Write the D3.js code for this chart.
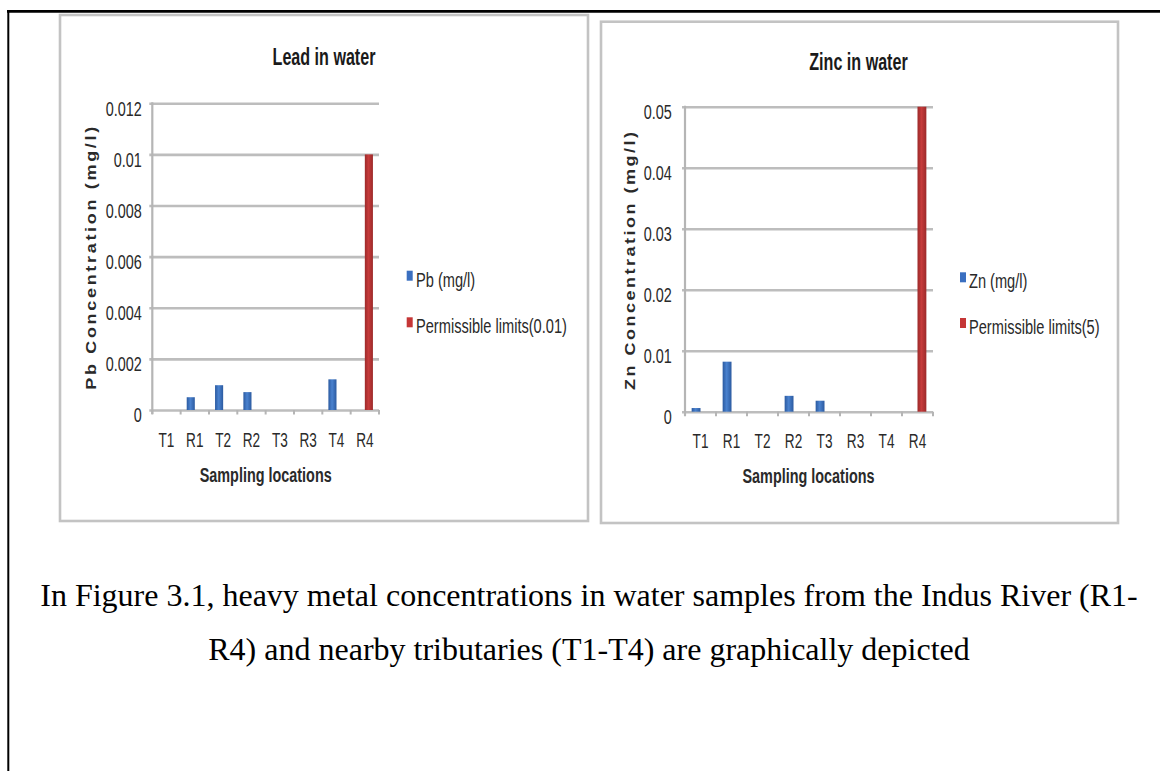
<!DOCTYPE html>
<html>
<head>
<meta charset="utf-8">
<script src="https://cdn.jsdelivr.net/npm/d3@7"></script>
<style>
  html, body { margin: 0; padding: 0; background: #fff; }
  svg { display: block; }
</style>
</head>
<body>
<svg id="chart" width="1160" height="771"></svg>
<script>
// ---------------- DATA ----------------
const categories = ["T1", "R1", "T2", "R2", "T3", "R3", "T4", "R4"];

const pbValues = [0, 0.0005, 0.00097, 0.0007, 0, 0, 0.0012, 0];
const pbLimit  = [0, 0, 0, 0, 0, 0, 0, 0.01];
const pbTicks  = [0, 0.002, 0.004, 0.006, 0.008, 0.01, 0.012];

const znValues = [0.0006, 0.0082, 0, 0.0026, 0.0018, 0, 0, 0];
const znLimit  = [0, 0, 0, 0, 0, 0, 0, 0.05];
const znTicks  = [0, 0.01, 0.02, 0.03, 0.04, 0.05];

const pbTitle = "Lead in water";
const znTitle = "Zinc in water";
const pbYTitle = "Pb Concentration (mg/l)";
const znYTitle = "Zn Concentration (mg/l)";
const xTitle = "Sampling locations";
const pbSeriesNames = ["Pb (mg/l)", "Permissible limits(0.01)"];
const znSeriesNames = ["Zn (mg/l)", "Permissible limits(5)"];
const captionLines = [
  "In Figure 3.1, heavy metal concentrations in water samples from the Indus River (R1-",
  "R4) and nearby tributaries (T1-T4) are graphically depicted"
];

// ---------------- LAYOUT ----------------
const SANS = "'Liberation Sans', Arial, sans-serif";
const SERIF = "'Liberation Serif', 'Times New Roman', serif";
const SQUEEZE = 0.72;

const svg = d3.select("#chart");
const defs = svg.append("defs");

function grad(id, stops) {
  const g = defs.append("linearGradient").attr("id", id)
    .attr("x1", "0").attr("y1", "0").attr("x2", "1").attr("y2", "0");
  stops.forEach(s => g.append("stop").attr("offset", s[0]).attr("stop-color", s[1]));
}
grad("blueGrad", [[0, "#2b5aa0"], [0.45, "#4a82cf"], [1, "#2b5aa0"]]);
grad("redGrad", [[0, "#9c2a2a"], [0.45, "#c63b3b"], [1, "#9c2a2a"]]);

function condense(sel, f) {
  sel.each(function () {
    const w = this.getComputedTextLength();
    d3.select(this).attr("textLength", w * f).attr("lengthAdjust", "spacingAndGlyphs");
  });
}

// document frame
svg.append("line").attr("x1", 7).attr("x2", 1160).attr("y1", 11.3).attr("y2", 11.3)
  .attr("stroke", "#000").attr("stroke-width", 2.7);
svg.append("line").attr("x1", 8.3).attr("x2", 8.3).attr("y1", 10).attr("y2", 771)
  .attr("stroke", "#000").attr("stroke-width", 2);

const fmt = d => d === 0 ? "0" : String(+d.toFixed(4));

function drawChart(cfg) {
  const g = svg.append("g");

  // panel border
  g.append("rect")
    .attr("x", cfg.panel[0]).attr("y", cfg.panel[1])
    .attr("width", cfg.panel[2]).attr("height", cfg.panel[3])
    .attr("fill", "#fff").attr("stroke", "#c3c3c3").attr("stroke-width", 2.6);

  const x = d3.scaleBand().domain(categories).range([cfg.plot.x0, cfg.plot.x1]).padding(0);
  const y = d3.scaleLinear().domain([0, cfg.ticks[cfg.ticks.length - 1]]).range([cfg.plot.yBot, cfg.plot.yTop]);

  const step = x.bandwidth();
  const groupW = step * 2 / 3.5;
  const xs = d3.scaleBand().domain([0, 1]).range([(step - groupW) / 2, (step + groupW) / 2]).padding(0);

  // gridlines + y labels
  const yAxis = d3.axisLeft(y).tickValues(cfg.ticks).tickFormat(fmt)
    .tickSizeInner(-(cfg.plot.x1 - cfg.plot.x0 + 3)).tickSizeOuter(0).tickPadding(cfg.yPad);
  const ya = g.append("g").attr("transform", `translate(${cfg.plot.x0 - 3},0)`).call(yAxis);
  ya.select(".domain").remove();
  ya.selectAll(".tick line").attr("stroke", "#bdbdbd").attr("stroke-width", 2.6);
  ya.selectAll(".tick text")
    .attr("font-family", SANS).attr("font-size", 20).attr("fill", "#2a2a2a")
    .attr("y", 4.5).attr("dy", "0.36em");
  condense(ya.selectAll(".tick text"), SQUEEZE);

  // vertical axis line
  g.append("line").attr("x1", cfg.plot.x0).attr("x2", cfg.plot.x0)
    .attr("y1", cfg.plot.yTop - 1).attr("y2", cfg.plot.yBot + 4)
    .attr("stroke", "#b5b5b5").attr("stroke-width", 2.2);

  // category tick marks
  const bounds = categories.map(c => x(c)).concat([cfg.plot.x1]);
  g.append("g").selectAll("line").data(bounds).join("line")
    .attr("x1", d => d).attr("x2", d => d)
    .attr("y1", cfg.plot.yBot).attr("y2", cfg.plot.yBot + 4.5)
    .attr("stroke", "#b5b5b5").attr("stroke-width", 2);

  // x labels
  const xAxis = d3.axisBottom(x).tickSize(0).tickPadding(0);
  const xa = g.append("g").attr("transform", `translate(0,${cfg.plot.yBot})`).call(xAxis);
  xa.select(".domain").remove();
  xa.selectAll(".tick text")
    .attr("font-family", SANS).attr("font-size", 20).attr("fill", "#2a2a2a")
    .attr("y", 36.7).attr("dy", 0);
  condense(xa.selectAll(".tick text"), 0.68);

  // bars
  const series = [cfg.values, cfg.limit];
  const fills = ["url(#blueGrad)", "url(#redGrad)"];
  series.forEach((vals, si) => {
    g.append("g").selectAll("rect")
      .data(categories.map((c, i) => ({ c, v: vals[i] })).filter(d => d.v > 0))
      .join("rect")
      .attr("x", d => x(d.c) + xs(si))
      .attr("width", xs.bandwidth())
      .attr("y", d => y(d.v))
      .attr("height", d => y(0) - y(d.v))
      .attr("fill", fills[si]);
  });

  // title
  const t = g.append("text").attr("x", cfg.title[0]).attr("y", cfg.title[1])
    .attr("text-anchor", "middle").attr("font-family", SANS).attr("font-weight", "bold")
    .attr("font-size", 23).attr("fill", "#1a1a1a").text(cfg.titleText);
  condense(t, 0.7);

  // x title
  const xt = g.append("text").attr("x", cfg.xTitle[0]).attr("y", cfg.xTitle[1])
    .attr("text-anchor", "middle").attr("font-family", SANS).attr("font-weight", "bold")
    .attr("font-size", 20).attr("fill", "#2a2a2a").text(xTitle);
  condense(xt, 0.72);

  // y title (rotated, glyph height squeezed)
  g.append("text")
    .attr("transform", `translate(${cfg.yTitle[0]},${cfg.yTitle[1]}) rotate(-90) scale(1,0.8)`)
    .attr("text-anchor", "middle").attr("font-family", SANS).attr("font-weight", "bold")
    .attr("font-size", 18).attr("fill", "#2a2a2a")
    .attr("textLength", cfg.yTitle[2]).attr("lengthAdjust", "spacing")
    .text(cfg.yTitleText);

  // legend
  const legColors = ["#3a6fc0", "#c53636"];
  cfg.names.forEach((name, i) => {
    const base = cfg.legend.base[i];
    g.append("rect").attr("x", cfg.legend.sq).attr("y", base - 16)
      .attr("width", 6).attr("height", 10).attr("fill", legColors[i]);
    const lt = g.append("text").attr("x", cfg.legend.tx).attr("y", base)
      .attr("font-family", SANS).attr("font-size", 20).attr("fill", "#2a2a2a").text(name);
    condense(lt, 0.73);
  });
}

drawChart({
  panel: [60, 15, 528, 506],
  plot: { x0: 152.3, x1: 379, yTop: 103.3, yBot: 410 },
  ticks: pbTicks, values: pbValues, limit: pbLimit, yPad: 7.6,
  titleText: pbTitle, title: [324, 65],
  xTitle: [265.7, 481.5],
  yTitleText: pbYTitle, yTitle: [96, 258.3, 263],
  names: pbSeriesNames,
  legend: { sq: 406.7, tx: 416, base: [286.7, 333.3] }
});

drawChart({
  panel: [601, 21.7, 517, 501.3],
  plot: { x0: 685, x1: 933, yTop: 106.7, yBot: 411.7 },
  ticks: znTicks, values: znValues, limit: znLimit, yPad: 10.3,
  titleText: znTitle, title: [858.5, 70],
  xTitle: [808.5, 482.5],
  yTitleText: znYTitle, yTitle: [635, 261, 258],
  names: znSeriesNames,
  legend: { sq: 960, tx: 969, base: [288.3, 334] }
});

// caption
svg.append("g").selectAll("text").data(captionLines).join("text")
  .attr("x", 589).attr("y", (d, i) => 606 + i * 54)
  .attr("text-anchor", "middle").attr("font-family", SERIF)
  .attr("font-size", 32).attr("fill", "#000").text(d => d);
</script>
</body>
</html>
